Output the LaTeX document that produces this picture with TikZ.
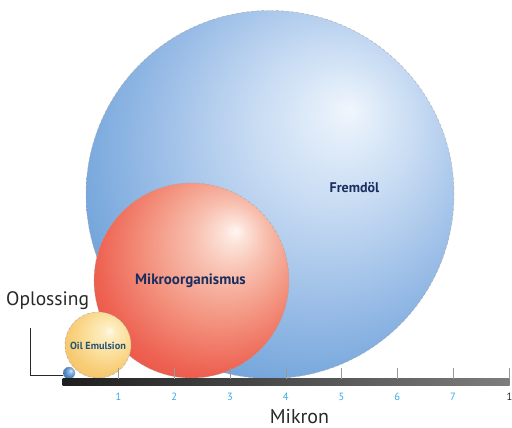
\documentclass[tikz,border=0pt]{standalone}
\usepackage{fontspec}
\setmainfont{PT Sans}
\usepackage{tikz}
\usetikzlibrary{positioning}

\definecolor{labelnavy}{RGB}{25,45,95}
\definecolor{emultext}{RGB}{35,85,120}
\definecolor{tickcyan}{RGB}{55,170,232}
\definecolor{textgray}{RGB}{40,40,40}
\definecolor{bardark}{RGB}{30,30,30}
\definecolor{barlight}{RGB}{125,125,125}
% sphere colours
\definecolor{blueA}{RGB}{240,246,252}
\definecolor{blueB}{RGB}{224,236,249}
\definecolor{blueC}{RGB}{196,217,242}
\definecolor{blueD}{RGB}{148,185,229}
\definecolor{blueE}{RGB}{98,155,214}
\definecolor{blueF}{RGB}{62,130,200}
\definecolor{redA}{RGB}{255,246,242}
\definecolor{redB}{RGB}{252,225,215}
\definecolor{redC}{RGB}{248,192,176}
\definecolor{redD}{RGB}{243,148,128}
\definecolor{redE}{RGB}{238,98,82}
\definecolor{redF}{RGB}{228,60,50}
\definecolor{yelA}{RGB}{255,250,232}
\definecolor{yelB}{RGB}{254,238,195}
\definecolor{yelC}{RGB}{252,225,160}
\definecolor{yelD}{RGB}{248,205,120}
\definecolor{yelE}{RGB}{240,185,90}
\definecolor{dropA}{RGB}{225,238,250}
\definecolor{dropB}{RGB}{150,190,230}
\definecolor{dropC}{RGB}{80,135,195}
\definecolor{dropD}{RGB}{50,105,175}

\pgfdeclareradialshading{fremdshade}{\pgfpoint{10.8bp}{11.6bp}}{%
  color(0bp)=(blueA); color(4bp)=(blueB); color(12bp)=(blueC);
  color(24bp)=(blueD); color(36bp)=(blueE); color(50bp)=(blueF); color(60bp)=(blueF)}
\pgfdeclareradialshading{mikroshade}{\pgfpoint{11.5bp}{12.8bp}}{%
  color(0bp)=(redA); color(3bp)=(redB); color(9bp)=(redC);
  color(19bp)=(redD); color(30bp)=(redE); color(43bp)=(redF); color(60bp)=(redF)}
\pgfdeclareradialshading{emulshade}{\pgfpoint{9bp}{11bp}}{%
  color(0bp)=(yelA); color(4bp)=(yelB); color(14bp)=(yelC);
  color(26bp)=(yelD); color(40bp)=(yelE); color(60bp)=(yelE)}
\pgfdeclareradialshading{dropshade}{\pgfpoint{8bp}{10bp}}{%
  color(0bp)=(dropA); color(7bp)=(dropB); color(22bp)=(dropC);
  color(40bp)=(dropD); color(60bp)=(dropD)}

\tikzstyle{sphere} = [circle, inner sep=0pt, draw=gray!70, densely dashed, line width=0.35pt]
\tikzstyle{tick}   = [gray!80, line width=0.6pt]
\tikzset{every node/.style={align=center}}

\begin{document}
\begin{tikzpicture}[x=1pt, y=1pt]
  \useasboundingbox (0,0) rectangle (512,428);
  % Spheres
  \node[sphere, shading=fremdshade, minimum size=368pt] (fremdoel) at (270,233.5) {};
  \node[sphere, shading=mikroshade, minimum size=195pt] (mikro) at (191.5,147.5) {};
  \node[sphere, shading=emulshade, minimum size=66pt] (emulsion) at (98,83) {};
  \node[sphere, shading=dropshade, minimum size=12pt] (droplet) at (69,55) {};
  % Labels
  \node[anchor=base, font=\bfseries\fontsize{14}{14}\selectfont, text=labelnavy] (fremdlabel) at (354.5,235.7) {Fremdöl};
  \node[anchor=base, font=\bfseries\fontsize{15}{15}\selectfont, text=labelnavy] (mikrolabel) at (190.5,143) {Mikroorganismus};
  \node[anchor=base, font=\bfseries\fontsize{10.3}{10}\selectfont, text=emultext] (emullabel) at (98,78) {Oil Emulsion};
  % Axis
  \shade[left color=bardark, right color=barlight] (62.5,42) rectangle (509.5,49);
  \foreach \k in {1,...,8}
      \draw[tick] (62.8+55.75*\k,49) -- (62.8+55.75*\k,60);
  \foreach \k in {1,...,7}
      \node[anchor=base, font=\fontsize{10.5}{10}\selectfont, text=tickcyan] at (62.8+55.75*\k,27) {\k};
  \node[anchor=base, font=\fontsize{10.5}{10}\selectfont, text=textgray] (lastnum) at (509.5,27) {1};
  \node[anchor=base, inner sep=0pt, font=\fontsize{20}{20}\selectfont, text=textgray] (mikron) at (299.5,4) {Mikron};
  % Oplossing leader
  \node[anchor=base west, font=\fontsize{19.5}{20}\selectfont, text=textgray, inner sep=0pt] (oplossing) at (6,122) {Oplossing};
  \coordinate (leadtop) at (30,100);
  \draw[textgray, line width=1pt] (leadtop) |- (droplet.200);
\end{tikzpicture}
\end{document}
